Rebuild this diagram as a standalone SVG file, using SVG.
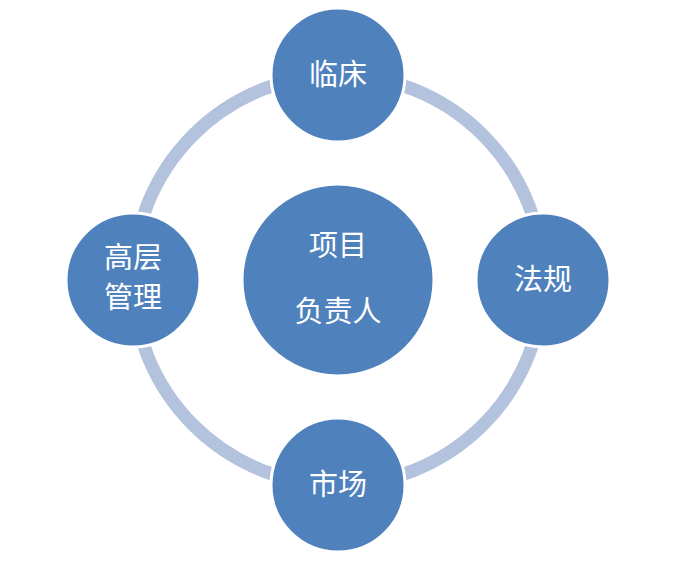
<svg xmlns="http://www.w3.org/2000/svg" width="696" height="575" viewBox="0 0 696 575">
<style>
.n{fill:#4f81bd;stroke:#fff;stroke-width:3}
.t{fill:#fff;font-family:"Noto Sans CJK SC",sans-serif;font-size:29px;text-anchor:middle}
</style>
<rect width="696" height="575" fill="#fff"/>
<g id="connectors"><circle cx="338" cy="280" r="205" fill="none" stroke="#b3c2dd" stroke-width="13"/></g>
<g id="center"><circle class="n" cx="338" cy="280" r="96"/><text class="t" x="338" y="256">项目</text><text class="t" x="338" y="322">负责人</text></g>
<g id="top"><circle class="n" cx="338" cy="75" r="67"/><text class="t" x="338" y="85">临床</text></g>
<g id="right"><circle class="n" cx="543" cy="280" r="67"/><text class="t" x="543" y="290">法规</text></g>
<g id="bottom"><circle class="n" cx="338" cy="485" r="67"/><text class="t" x="338" y="495">市场</text></g>
<g id="left"><circle class="n" cx="133" cy="280" r="67"/><text class="t" x="133" y="268">高层</text><text class="t" x="133" y="308">管理</text></g>
</svg>
